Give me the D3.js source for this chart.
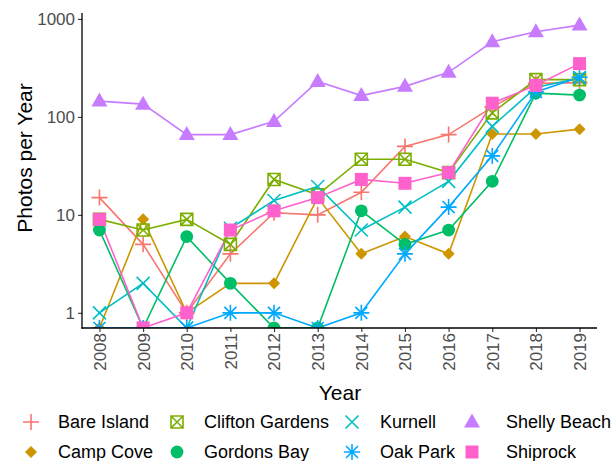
<!DOCTYPE html>
<html>
<head>
<meta charset="utf-8">
<script src="https://cdn.jsdelivr.net/npm/d3@7"></script>
<style>
  html, body { margin: 0; padding: 0; background: #fff; }
  svg { display: block; font-family: "Liberation Sans", Arial, sans-serif; }
</style>
</head>
<body>
<svg id="chart" width="616" height="461"></svg>
<script>
// ---- data ----
const years = [2008, 2009, 2010, 2011, 2012, 2013, 2014, 2015, 2016, 2017, 2018, 2019];
const seriesNames = ["Bare Island", "Camp Cove", "Clifton Gardens", "Gordons Bay", "Kurnell", "Oak Park", "Shelly Beach", "Shiprock"];
const bareIsland     = [15, 5, 1, 4, 10.5, 10, 17, 50, 66, 126, 220, 224];
const campCove       = [0.7, 9, 1, 2, 2, 15, 4, 6, 4, 67, 67, 75];
const cliftonGardens = [9, 7, 9, 5, 23, 16, 37, 37, 27, 110, 240, 240];
const gordonsBay     = [7, 0.7, 6, 2, 0.7, 0.7, 11, 5, 7, 22, 175, 167];
const kurnell        = [1, 2, 0.7, 7.3, 14, 19.5, 7, 12, 22, 80, 200, 250];
const oakPark        = [0.7, 0.7, 0.7, 1, 1, 0.7, 1, 4, 12, 40, 180, 254];
const shellyBeach    = [145, 135, 66, 66, 90, 230, 165, 205, 285, 585, 740, 865];
const shiprock       = [9, 0.7, 1, 7, 11, 15, 23, 21, 27, 138, 210, 350];
const yTickValues = [1, 10, 100, 1000];
const colors = ["#F8766D", "#CD9600", "#7CAE00", "#00BE67", "#00BFC4", "#00A9FF", "#C77CFF", "#FF61CC"];
const shapes = ["plus", "diamond", "squarecross", "circle", "cross", "asterisk", "triangle", "square"];
const allValues = [bareIsland, campCove, cliftonGardens, gordonsBay, kurnell, oakPark, shellyBeach, shiprock];

(function () {
const series = seriesNames.map((name, i) => ({
  name, color: colors[i], shape: shapes[i],
  values: years.map((yr, j) => ({ year: yr, value: allValues[i][j] }))
}));

// ---- layout ----
const svg = d3.select("#chart");
const pLeft = 82, pRight = 597, pTop = 13, pBottom = 328;

const x = d3.scaleLinear().domain([2007.6, 2019.4]).range([pLeft, pRight]);
const y = d3.scaleLog().domain([0.7, 1150]).range([pBottom, pTop]);

svg.append("defs").append("clipPath").attr("id", "panel")
  .append("rect").attr("x", pLeft).attr("y", pTop).attr("width", pRight - pLeft).attr("height", pBottom - pTop);

// ---- shapes ----
function drawShape(g, shape, color) {
  const sw = 1.6;
  switch (shape) {
    case "plus":
      g.append("path").attr("d", "M-8,0H8M0,-8V8").attr("stroke", color).attr("stroke-width", sw).attr("fill", "none");
      break;
    case "diamond":
      g.append("path").attr("d", "M0,-6L6,0L0,6L-6,0Z").attr("fill", color);
      break;
    case "squarecross":
      g.append("path").attr("d", "M-6,-6H6V6H-6ZM-6,-6L6,6M6,-6L-6,6").attr("stroke", color).attr("stroke-width", sw).attr("fill", "none");
      break;
    case "circle":
      g.append("circle").attr("r", 6.4).attr("fill", color);
      break;
    case "cross":
      g.append("path").attr("d", "M-6.5,-6.5L6.5,6.5M6.5,-6.5L-6.5,6.5").attr("stroke", color).attr("stroke-width", sw).attr("fill", "none");
      break;
    case "asterisk":
      g.append("path").attr("d", "M-8,0H8M0,-8V8M-6,-6L6,6M6,-6L-6,6").attr("stroke", color).attr("stroke-width", sw).attr("fill", "none");
      break;
    case "triangle":
      g.append("path").attr("d", "M0,-8.5L8,5.5L-8,5.5Z").attr("fill", color);
      break;
    case "square":
      g.append("rect").attr("x", -6.5).attr("y", -6.5).attr("width", 13).attr("height", 13).attr("fill", color);
      break;
  }
}

// ---- lines & points ----
const panel = svg.append("g").attr("clip-path", "url(#panel)");
const line = d3.line().x(d => x(d.year)).y(d => y(d.value));

series.forEach(s => {
  panel.append("path").datum(s.values).attr("d", line)
    .attr("fill", "none").attr("stroke", s.color).attr("stroke-width", 1.6);
});
series.forEach(s => {
  s.values.forEach(d => {
    const g = panel.append("g").attr("transform", `translate(${x(d.year)},${y(d.value)})`);
    drawShape(g, s.shape, s.color);
  });
});

// ---- axes ----
const yAxis = d3.axisLeft(y).tickValues(yTickValues).tickFormat(d3.format("d")).tickSize(4).tickPadding(3);
const yg = svg.append("g").attr("transform", `translate(${pLeft},0)`).call(yAxis);
yg.select(".domain").remove();
yg.selectAll(".tick line").attr("stroke", "#333").attr("stroke-width", 1.1);
yg.selectAll(".tick text").attr("fill", "#4D4D4D").style("font-size", "17px").style("font-family", "Liberation Sans, Arial, sans-serif");

const xAxis = d3.axisBottom(x).tickValues(years).tickFormat(d3.format("d")).tickSize(4).tickPadding(3);
const xg = svg.append("g").attr("transform", `translate(0,${pBottom})`).call(xAxis);
xg.select(".domain").remove();
xg.selectAll(".tick line").attr("stroke", "#333").attr("stroke-width", 1.1);
xg.selectAll(".tick text")
  .attr("fill", "#4D4D4D").style("font-size", "17px").style("font-family", "Liberation Sans, Arial, sans-serif")
  .attr("transform", "rotate(-90)")
  .attr("text-anchor", "end").attr("dy", "0.35em").attr("x", -5).attr("y", 0);

svg.append("line").attr("x1", pLeft).attr("x2", pLeft).attr("y1", pTop).attr("y2", pBottom + 0.6)
  .attr("stroke", "#000").attr("stroke-width", 1.3);
svg.append("line").attr("x1", pLeft - 0.6).attr("x2", pRight).attr("y1", pBottom).attr("y2", pBottom)
  .attr("stroke", "#000").attr("stroke-width", 1.3);

// ---- titles ----
svg.append("text").attr("x", 340).attr("y", 400).attr("text-anchor", "middle")
  .style("font-size", "21px").attr("fill", "#000").text("Year");
svg.append("text").attr("transform", `translate(32,158) rotate(-90)`).attr("text-anchor", "middle")
  .style("font-size", "21px").attr("fill", "#000").text("Photos per Year");

// ---- legend ----
const legendCols = [31, 177, 352, 472];
const legendTextX = [58, 204, 380, 506];
const legendRows = [422, 452];
const legendOrder = [[0, 2, 4, 6], [1, 3, 5, 7]];
legendOrder.forEach((row, r) => {
  row.forEach((si, c) => {
    const s = series[si];
    const g = svg.append("g").attr("transform", `translate(${legendCols[c]},${legendRows[r]})`);
    drawShape(g, s.shape, s.color);
    svg.append("text").attr("x", legendTextX[c]).attr("y", legendRows[r]).attr("dy", "0.35em")
      .style("font-size", "18px").attr("fill", "#000").text(s.name);
  });
});
})();
</script>
</body>
</html>
